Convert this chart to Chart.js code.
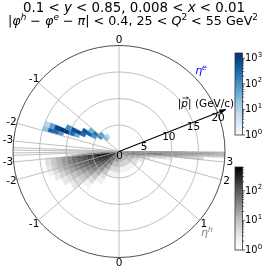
<!DOCTYPE html>
<html>
<head>
<meta charset="utf-8">
<script src="https://cdn.jsdelivr.net/npm/chart.js@4.4.1/dist/chart.umd.min.js"></script>
<style>
html,body{margin:0;padding:0;background:#ffffff;overflow:hidden;}
#wrap{width:266px;height:271px;position:relative;}
</style>
</head>
<body>
<div id="wrap"><canvas id="c"></canvas></div>
<script>
// ---------------- data ----------------
const titleLine1 = [['0.1 < ','n'],['y','i'],[' < 0.85, 0.008 < ','n'],['x','i'],[' < 0.01','n']];
const titleLine2 = [['|','n'],['\u03C6','i'],['h','si'],[' \u2212 ','n'],['\u03C6','i'],['e','si'],[' \u2212 ','n'],['\u03C0','i'],['| < 0.4, 25 < ','n'],['Q','i'],['2','s'],[' < 55 GeV','n'],['2','s']];

const etaTopSpokes = [0, -1, -2, -3, -4, -5];
const etaBottomSpokes = [-5, -4, -3, -2, -1, 0, 1, 2, 3, 4, 5];
const etaTopLabels = [0, -1, -2, -3];
const etaBottomLabels = [-3, -2, -1, 0, 1, 2, 3];
const radialTicks = [0, 5, 10, 15, 20];
const radialCircles = [5, 10, 15];
const rMax = 20;
const radialAxisAngleDeg = 21.5;
const radialArrowEnd = 21.6;

// electron (top half, eta^e): cells of width 0.2 in eta and 1 GeV/c in |p|
const blueEtaLo = [-0.8,-1.0, -1.0,-1.2, -1.2,-1.4, -1.4,-1.2, -1.6,-1.4, -1.6,-1.8, -1.6,-1.8, -1.8,-1.6, -1.8,-2.0, -1.8,-2.0, -2.0,-1.8, -2.0,-1.8];
const bluePLo   = [3,3, 4,4, 5,5, 6,6, 7,7, 8,8, 9,9, 10,10, 11,11, 12,12, 13,13, 14,14];
const blueCount = [8,25, 60,120, 250,90, 400,40, 300,500, 900,40, 700,300, 1200,100, 1500,80, 900,300, 400,60, 20,8];
const blueEtaWidth = 0.2, bluePWidth = 1;
const blueVmax = 1600;
const blueTicks = [1, 10, 100, 1000];

// hadron (bottom half, eta^h): eta bin edges, counts per 1 GeV/c |p| bin starting at 0
const grayEtaEdges = [-7,-4,-3.5,-3,-2.5,-2.25,-2,-1.75,-1.5,-1.25,-1,-0.75,-0.5,0,0.5,1,1.5,2,2.5,3,3.5,4,7];
const grayCounts = [
  [120,40,10],
  [250,140,50,18,6],
  [450,400,280,170,100,55,30,15,8,4],
  [550,600,550,420,300,200,140,95,60,38,24,14,8,4],
  [450,550,500,400,290,200,140,95,62,40,25,15,8,4],
  [350,480,450,360,260,180,125,85,56,36,22,13,7,3],
  [280,400,380,300,220,150,100,68,44,28,17,10,5,2],
  [220,320,300,230,160,110,72,46,30,18,11,6,3],
  [170,240,210,150,100,65,40,25,15,9,5,3],
  [130,170,140,95,60,36,22,13,8,5,3],
  [90,100,75,45,26,15,8,4,2],
  [60,55,35,18,9,4,2],
  [30,22,11,5,2],
  [18,12,6,2],
  [18,12,6,2],
  [25,17,9,4],
  [45,30,16,7,3],
  [80,60,35,18,9,4,2],
  [150,120,85,55,34,20,12,8,5,3],
  [250,220,170,120,85,62,46,35,27,21,16,13,10,8,6,5],
  [280,260,200,150,115,90,72,58,47,38,31,26,22,18,15,12,10,8,7,6],
  [260,240,200,160,130,105,88,74,63,54,46,40,35,30,26,22,19,16,13,11,9]
];
const grayPWidth = 1;
const grayVmax = 630;
const grayTicks = [1, 10, 100];

// ---------------- colormaps ----------------
const BLUES = ['#f7fbff','#deebf7','#c6dbef','#9ecae1','#6baed6','#4292c6','#2171b5','#08519c','#08306b'];
const GREYS = ['#ffffff','#f0f0f0','#d9d9d9','#bdbdbd','#969696','#737373','#525252','#252525','#000000'];
function hex2rgb(h){return [parseInt(h.slice(1,3),16),parseInt(h.slice(3,5),16),parseInt(h.slice(5,7),16)];}
function cmap(stops,t){
  t=Math.max(0,Math.min(1,t));
  const n=stops.length-1, f=t*n, i=Math.min(n-1,Math.floor(f)), u=f-i;
  const a=hex2rgb(stops[i]), b=hex2rgb(stops[i+1]);
  return 'rgb('+a.map((v,j)=>Math.round(v+(b[j]-v)*u)).join(',')+')';
}
const logNorm = (c,vmax)=>Math.log10(Math.max(c,1))/Math.log10(vmax);

const FONT = '"DejaVu Sans", "Liberation Sans", sans-serif';
function fontFor(style,size){
  const sup = style.indexOf('s')===0;
  const it = style.indexOf('i')>=0;
  const sz = sup? size*0.7 : size;
  return (it?'italic ':'')+sz.toFixed(2)+'px '+FONT;
}
function drawRuns(ctx, runs, x, baseline, size, align, color, targetWidth){
  ctx.save();
  ctx.textBaseline='alphabetic'; ctx.textAlign='left'; ctx.fillStyle=color||'#000';
  const measure = s => runs.map(r=>{ctx.font=fontFor(r[1],s); return ctx.measureText(r[0]).width;});
  let widths = measure(size);
  let total = widths.reduce((a,b)=>a+b,0);
  if(targetWidth){ size = size*targetWidth/total; widths = measure(size); total = widths.reduce((a,b)=>a+b,0); }
  let cx = align==='center'? x-total/2 : (align==='right'? x-total : x);
  runs.forEach((r,i)=>{
    ctx.font=fontFor(r[1],size);
    const sup = r[1].indexOf('s')===0;
    ctx.fillText(r[0], cx, baseline - (sup? size*0.38:0));
    cx+=widths[i];
  });
  ctx.restore();
  return total;
}

// ---------------- plugin ----------------
const polarHist = {
  id:'polarHist',
  afterDraw(chart){
    const ctx = chart.ctx;
    const xs = chart.scales.x, ys = chart.scales.y;
    const theta = eta => 2*Math.atan(Math.exp(-eta));
    const toPx = (r, eta, half) => { const th=theta(eta); return [xs.getPixelForValue(r*Math.cos(th)), ys.getPixelForValue(half*r*Math.sin(th))]; };
    const cx = xs.getPixelForValue(0), cy = ys.getPixelForValue(0);
    const k = xs.getPixelForValue(1) - cx;

    function cell(e1,e2,p1,p2,half,color){
      const n=14;
      ctx.beginPath();
      for(let i=0;i<=n;i++){const e=e1+(e2-e1)*i/n; const q=toPx(p1,e,half); if(i) ctx.lineTo(q[0],q[1]); else ctx.moveTo(q[0],q[1]);}
      for(let i=n;i>=0;i--){const e=e1+(e2-e1)*i/n; const q=toPx(p2,e,half); ctx.lineTo(q[0],q[1]);}
      ctx.closePath();
      ctx.fillStyle=color; ctx.fill();
      ctx.strokeStyle=color; ctx.lineWidth=0.35; ctx.stroke();
    }

    ctx.save();
    ctx.beginPath(); ctx.arc(cx,cy,rMax*k,0,Math.PI*2); ctx.clip();
    for(let j=0;j<grayCounts.length;j++){
      const row=grayCounts[j];
      for(let i=0;i<row.length;i++){
        if(row[i]<=0) continue;
        cell(grayEtaEdges[j],grayEtaEdges[j+1], i*grayPWidth,(i+1)*grayPWidth, -1, cmap(GREYS,logNorm(row[i],grayVmax)));
      }
    }
    for(let i=0;i<blueCount.length;i++){
      cell(blueEtaLo[i], blueEtaLo[i]+blueEtaWidth, bluePLo[i], bluePLo[i]+bluePWidth, 1, cmap(BLUES,logNorm(blueCount[i],blueVmax)));
    }
    ctx.strokeStyle='#b0b0b0'; ctx.lineWidth=0.8;
    radialCircles.forEach(r=>{ctx.beginPath(); ctx.arc(cx,cy,r*k,0,Math.PI*2); ctx.stroke();});
    const spoke=(eta,half)=>{const a=toPx(0,eta,half), b=toPx(rMax,eta,half); ctx.beginPath(); ctx.moveTo(a[0],a[1]); ctx.lineTo(b[0],b[1]); ctx.stroke();};
    etaTopSpokes.forEach(e=>spoke(e,1));
    etaBottomSpokes.forEach(e=>spoke(e,-1));
    ctx.restore();

    ctx.save();
    ctx.strokeStyle='#222'; ctx.lineWidth=0.8;
    ctx.beginPath(); ctx.arc(cx,cy,rMax*k,0,Math.PI*2); ctx.stroke();
    ctx.restore();

    ctx.save();
    ctx.fillStyle='#000'; ctx.font='10.5px '+FONT; ctx.textAlign='center'; ctx.textBaseline='middle';
    const labR = rMax*1.052;
    etaTopLabels.forEach(e=>{const q=toPx(labR,e,1); ctx.fillText(String(e),q[0],q[1]);});
    etaBottomLabels.forEach(e=>{const q=toPx(labR,e,-1); ctx.fillText(String(e),q[0],q[1]);});
    ctx.restore();

    const al = radialAxisAngleDeg*Math.PI/180;
    const ap = r=>[xs.getPixelForValue(r*Math.cos(al)), ys.getPixelForValue(r*Math.sin(al))];
    ctx.save();
    const a0=ap(0), a1=ap(radialArrowEnd);
    ctx.strokeStyle='#000'; ctx.lineWidth=1.1;
    ctx.beginPath(); ctx.moveTo(a0[0],a0[1]); ctx.lineTo(a1[0],a1[1]); ctx.stroke();
    const dx=Math.cos(al), dy=-Math.sin(al);
    const hl=6, hw=2.3;
    ctx.fillStyle='#000';
    ctx.beginPath();
    ctx.moveTo(a1[0]+dx*1,a1[1]+dy*1);
    ctx.lineTo(a1[0]-dx*hl - dy*hw, a1[1]-dy*hl + dx*hw);
    ctx.lineTo(a1[0]-dx*hl + dy*hw, a1[1]-dy*hl - dx*hw);
    ctx.closePath(); ctx.fill();
    ctx.font='10.5px '+FONT; ctx.textAlign='center'; ctx.textBaseline='middle';
    radialTicks.forEach(v=>{const q=ap(v); ctx.fillText(String(v), q[0]+0.5, q[1]+5.2);});
    ctx.restore();

    ctx.save();
    const lx=206, lb=107;
    const w = drawRuns(ctx, [['|','n'],['p','i'],['| (GeV/c)','n']], lx, lb, 10.5, 'center');
    ctx.font='10.5px '+FONT;
    const wbar = ctx.measureText('|').width;
    ctx.font='italic 10.5px '+FONT;
    const wp = ctx.measureText('p').width;
    const px0 = lx - w/2 + wbar + 1, px1 = px0 + wp - 0.5, py = lb - 9;
    ctx.strokeStyle='#000'; ctx.lineWidth=0.7;
    ctx.beginPath(); ctx.moveTo(px0,py); ctx.lineTo(px1,py); ctx.stroke();
    ctx.beginPath(); ctx.moveTo(px1-2,py-1.3); ctx.lineTo(px1,py); ctx.lineTo(px1-2,py+1.3); ctx.stroke();
    ctx.restore();

    drawRuns(ctx, [['\u03B7','i'],['e','si']], 201, 74, 11, 'center', '#0000ff');
    drawRuns(ctx, [['\u03B7','i'],['h','si']], 207, 236, 11, 'center', '#808080');

    drawRuns(ctx, titleLine1, 134, 11.7, 13.5, 'center', '#000', 222);
    drawRuns(ctx, titleLine2, 133, 25, 13.5, 'center', '#000', 250);

    function colorbar(x0,x1,yTop,yBot,stops,vmax,ticks){
      const h=yBot-yTop, lmax=Math.log10(vmax);
      for(let y=Math.floor(yTop); y<yBot; y++){
        const t=(yBot-(y+0.5))/h;
        ctx.fillStyle=cmap(stops,t);
        ctx.fillRect(x0,y,x1-x0,1);
      }
      ctx.strokeStyle='#333'; ctx.lineWidth=0.8;
      ctx.strokeRect(x0,yTop,x1-x0,h);
      ctx.strokeStyle='#000'; ctx.lineWidth=0.6;
      for(let d=0; d<Math.ceil(lmax); d++){
        for(let m=2;m<=9;m++){
          const lv=d+Math.log10(m); if(lv>lmax) break;
          const y=yBot-lv/lmax*h;
          ctx.beginPath(); ctx.moveTo(x1,y); ctx.lineTo(x1+1.6,y); ctx.stroke();
        }
      }
      ticks.forEach(v=>{
        const y=yBot-Math.log10(v)/lmax*h;
        ctx.beginPath(); ctx.moveTo(x1,y); ctx.lineTo(x1+2.6,y); ctx.stroke();
        ctx.fillStyle='#000'; ctx.font='9.8px '+FONT; ctx.textAlign='left'; ctx.textBaseline='middle';
        ctx.fillText('10', x1+2.5, y+0.5);
        const w=ctx.measureText('10').width;
        ctx.font='7px '+FONT;
        ctx.fillText(String(Math.round(Math.log10(v))), x1+2.5+w+0.3, y-3.3);
      });
    }
    ctx.save();
    colorbar(235,242.5,53,135,BLUES,blueVmax,blueTicks);
    colorbar(235,242.5,167,250,GREYS,grayVmax,grayTicks);
    ctx.restore();
  }
};

// ---------------- chart ----------------
const pxPerUnit = 5.3, centerX = 119, centerY = 151.5, W = 266, H = 271;
new Chart(document.getElementById('c'), {
  type:'scatter',
  data:{datasets:[{data:[], pointRadius:0}]},
  options:{
    responsive:true, maintainAspectRatio:false, animation:false, devicePixelRatio:1,
    layout:{padding:0},
    plugins:{legend:{display:false}, tooltip:{enabled:false}, title:{display:false}},
    scales:{
      x:{type:'linear', display:false, bounds:'data', min:-centerX/pxPerUnit, max:(W-centerX)/pxPerUnit},
      y:{type:'linear', display:false, bounds:'data', min:-(H-centerY)/pxPerUnit, max:centerY/pxPerUnit}
    }
  },
  plugins:[polarHist]
});
</script>
</body>
</html>
